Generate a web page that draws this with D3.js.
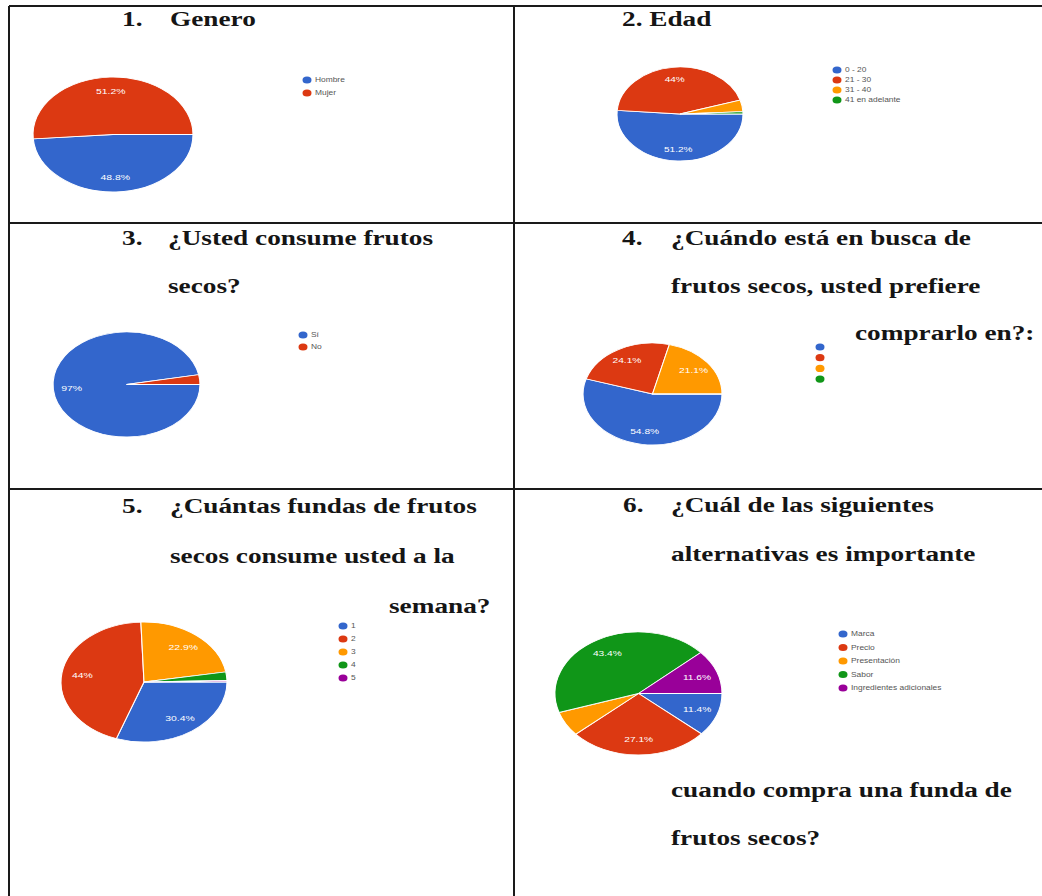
<!DOCTYPE html>
<html>
<head>
<meta charset="utf-8">
<script src="https://cdn.jsdelivr.net/npm/d3@7"></script>
<style>
  body { margin: 0; background: #fff; }
  svg { display: block; }
</style>
</head>
<body>
<div id="canvas"></div>
<script>
// survey answers, in percent
var generoLabels = ['Hombre', 'Mujer'];
var generoValues = [48.8, 51.2];

var edadLabels = ['0 - 20', '21 - 30', '31 - 40', '41 en adelante'];
var edadValues = [51.2, 44, 4, 0.8];

var consumeLabels = ['Sí', 'No'];
var consumeValues = [97, 3];

var lugarLabels = ['', '', '', ''];
var lugarValues = [54.8, 24.1, 21.1, 0];

var fundasLabels = ['1', '2', '3', '4', '5'];
var fundasValues = [30.4, 44, 22.9, 2.3, 0.4];

var atributoLabels = ['Marca', 'Precio', 'Presentación', 'Sabor', 'Ingredientes adicionales'];
var atributoValues = [11.4, 27.1, 6.5, 43.4, 11.6];

var sliceColors = ['#3366cc', '#dc3912', '#ff9900', '#109618', '#990099'];

var width = 1042, height = 896;

var svg = d3.select('#canvas').append('svg')
  .attr('width', width)
  .attr('height', height);

// table frame
var frame = svg.append('g')
  .attr('stroke', '#1a1a1a')
  .attr('stroke-width', 2);
frame.append('line').attr('x1', 9).attr('y1', 6).attr('x2', 1042).attr('y2', 6);
frame.append('line').attr('x1', 9).attr('y1', 223).attr('x2', 1042).attr('y2', 223);
frame.append('line').attr('x1', 9).attr('y1', 489).attr('x2', 1042).attr('y2', 489);
frame.append('line').attr('x1', 9).attr('y1', 6).attr('x2', 9).attr('y2', 896);
frame.append('line').attr('x1', 514).attr('y1', 6).attr('x2', 514).attr('y2', 896);

// titles (serif, stretched a bit like the scan)
var titleLines = [
  { t: '1.', x: 122, y: 26 }, { t: 'Genero', x: 170, y: 26 },
  { t: '2. Edad', x: 622, y: 26 },
  { t: '3.', x: 122, y: 245 }, { t: '¿Usted consume frutos', x: 168, y: 245 },
  { t: 'secos?', x: 168, y: 293 },
  { t: '4.', x: 622, y: 245 }, { t: '¿Cuándo está en busca de', x: 671, y: 245 },
  { t: 'frutos secos, usted prefiere', x: 671, y: 293 },
  { t: 'comprarlo en?:', x: 855, y: 340 },
  { t: '5.', x: 122, y: 513 }, { t: '¿Cuántas fundas de frutos', x: 170, y: 513 },
  { t: 'secos consume usted a la', x: 170, y: 563 },
  { t: 'semana?', x: 389, y: 613 },
  { t: '6.', x: 623, y: 512 }, { t: '¿Cuál de las siguientes', x: 671, y: 512 },
  { t: 'alternativas es importante', x: 671, y: 561 },
  { t: 'cuando compra una funda de', x: 671, y: 797 },
  { t: 'frutos secos?', x: 671, y: 845 }
];

svg.append('g').selectAll('text').data(titleLines)
  .enter().append('text')
  .attr('transform', function (d) { return 'translate(' + d.x + ',' + d.y + ') scale(1.24,1)'; })
  .attr('font-family', '"Liberation Serif", "DejaVu Serif", serif')
  .attr('font-weight', 'bold')
  .attr('font-size', 22)
  .attr('fill', '#151515')
  .text(function (d) { return d.t; });

// pies: google forms style, starting at 3 o'clock, clockwise, stretched wide
var pies = [
  { labels: generoLabels, values: generoValues, cx: 113, cy: 134.5, rx: 80, ry: 57.5, lx: 307, ly: 80, step: 13 },
  { labels: edadLabels, values: edadValues, cx: 680, cy: 114, rx: 63, ry: 47, lx: 837, ly: 70, step: 10 },
  { labels: consumeLabels, values: consumeValues, cx: 126.5, cy: 384.5, rx: 73.5, ry: 52.5, lx: 303, ly: 335, step: 12 },
  { labels: lugarLabels, values: lugarValues, cx: 652.5, cy: 394, rx: 69.5, ry: 51, lx: 820, ly: 347, step: 10.7 },
  { labels: fundasLabels, values: fundasValues, cx: 144, cy: 682, rx: 83, ry: 60, lx: 343, ly: 626, step: 13 },
  { labels: atributoLabels, values: atributoValues, cx: 638.5, cy: 693.5, rx: 83.5, ry: 61.5, lx: 843, ly: 634, step: 13.5 }
];

var pie = d3.pie()
  .sort(null)
  .startAngle(Math.PI / 2)
  .endAngle(Math.PI / 2 + 2 * Math.PI);

pies.forEach(function (p) {
  var arcs = pie(p.values);
  var arc = d3.arc().innerRadius(0).outerRadius(p.ry);
  var labelArc = d3.arc().innerRadius(p.ry * 0.75).outerRadius(p.ry * 0.75);

  var g = svg.append('g')
    .attr('transform', 'translate(' + p.cx + ',' + p.cy + ') scale(' + (p.rx / p.ry) + ',1)');

  g.selectAll('path').data(arcs)
    .enter().append('path')
    .attr('d', arc)
    .attr('fill', function (d, i) { return sliceColors[i]; })
    .attr('stroke', '#fff')
    .attr('stroke-width', 0.8);

  g.selectAll('text').data(arcs.filter(function (d) { return d.value >= 10; }))
    .enter().append('text')
    .attr('x', function (d) { return labelArc.centroid(d)[0]; })
    .attr('y', function (d) { return labelArc.centroid(d)[1]; })
    .attr('text-anchor', 'middle')
    .attr('dy', '0.35em')
    .attr('font-family', '"Liberation Sans", Arial, sans-serif')
    .attr('font-size', 7.5)
    .attr('fill', '#fff')
    .text(function (d) { return d.value + '%'; });

  // legend
  var leg = svg.append('g');
  leg.selectAll('ellipse').data(p.labels)
    .enter().append('ellipse')
    .attr('cx', p.lx)
    .attr('cy', function (d, i) { return p.ly + i * p.step; })
    .attr('rx', 4.5)
    .attr('ry', 3.6)
    .attr('fill', function (d, i) { return sliceColors[i]; });

  leg.selectAll('text').data(p.labels)
    .enter().append('text')
    .attr('transform', function (d, i) { return 'translate(' + (p.lx + 8) + ',' + (p.ly + i * p.step) + ') scale(1.2,1)'; })
    .attr('dy', '0.35em')
    .attr('font-family', '"Liberation Sans", Arial, sans-serif')
    .attr('font-size', 7)
    .attr('fill', '#555')
    .text(function (d) { return d; });
});
</script>
</body>
</html>
